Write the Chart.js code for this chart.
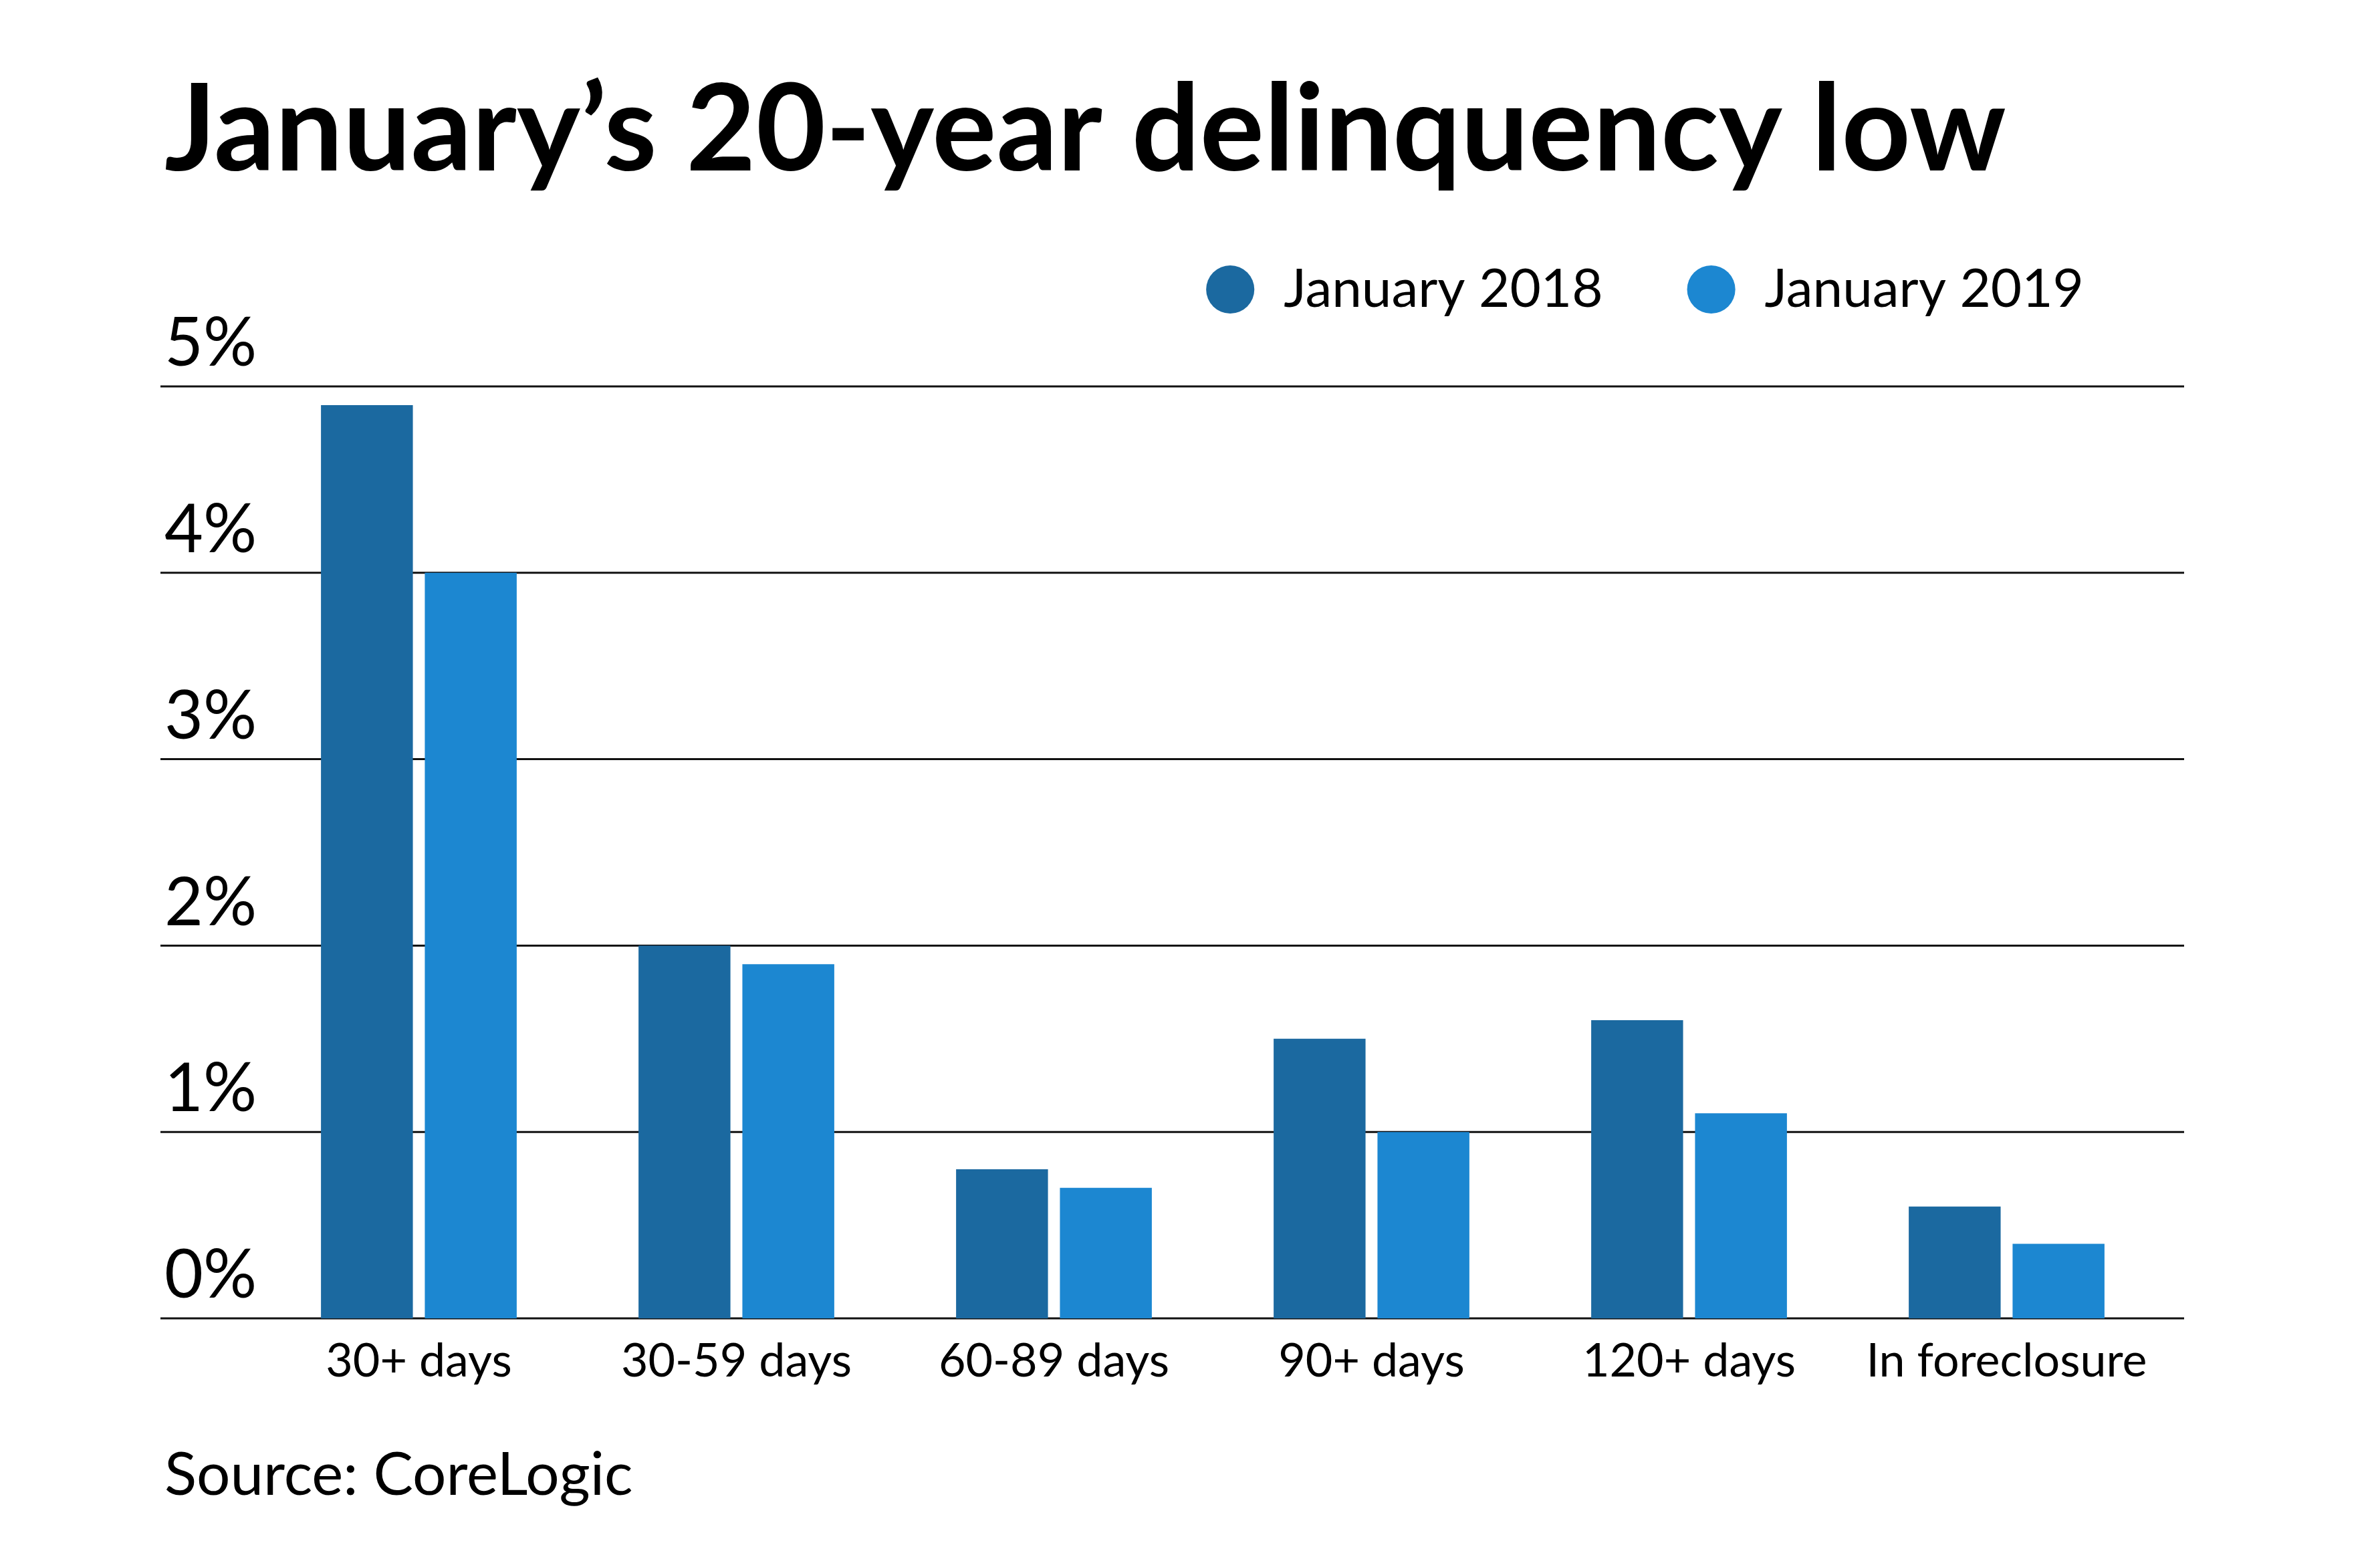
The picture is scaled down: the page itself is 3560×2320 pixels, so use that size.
<!DOCTYPE html>
<html>
<head>
<meta charset="utf-8">
<title>January's 20-year delinquency low</title>
<script src="https://cdn.jsdelivr.net/npm/chart.js@4"></script>
<style>
  html, body { margin: 0; padding: 0; background: #fff; }
  #wrap { width: 3560px; height: 2320px; position: relative; }
</style>
</head>
<body>
<div id="wrap"><canvas id="delinq"></canvas></div>
<script>
const categories = ['30+ days', '30-59 days', '60-89 days', '90+ days', '120+ days', 'In foreclosure'];
const seriesNames = ['January 2018', 'January 2019'];
const jan2018 = [4.9, 2.0, 0.8, 1.5, 1.6, 0.6];
const jan2019 = [4.0, 1.9, 0.7, 1.0, 1.1, 0.4];
const yMax = 5;
const yStep = 1;

const darkBlue = '#1b69a0';
const lightBlue = '#1c87d1';

// horizontal rules run a bit past the plot on both sides, behind the bars
const fullGrid = {
  id: 'fullGrid',
  beforeDatasetsDraw(chart) {
    const {ctx, chartArea, scales: {y}} = chart;
    ctx.save();
    ctx.strokeStyle = '#111';
    ctx.lineWidth = 3;
    y.ticks.forEach(t => {
      const py = y.getPixelForValue(t.value);
      ctx.beginPath();
      ctx.moveTo(y.left - 6, py);
      ctx.lineTo(chartArea.right + 28, py);
      ctx.stroke();
    });
    ctx.restore();
  }
};

const ctx = document.getElementById('delinq');

const chart = new Chart(ctx, {
  type: 'bar',
  data: {
    labels: categories,
    datasets: [{
      label: seriesNames[0],
      data: jan2018,
      backgroundColor: darkBlue,
      borderWidth: 0
    }, {
      label: seriesNames[1],
      data: jan2019,
      backgroundColor: lightBlue,
      borderWidth: 0
    }]
  },
  options: {
    responsive: true,
    maintainAspectRatio: false,
    devicePixelRatio: 1,
    animation: false,
    categoryPercentage: 0.654,
    barPercentage: 0.885,
    layout: {
      padding: {top: 111, left: 246, right: 321, bottom: 68}
    },
    plugins: {
      tooltip: {enabled: false},
      title: {
        display: true,
        text: 'January\u2019s 20-year delinquency low',
        align: 'start',
        color: '#000',
        font: {family: 'Lato', size: 180, weight: '700', lineHeight: 0.95},
        padding: {top: 0, bottom: -11}
      },
      subtitle: {
        display: true,
        position: 'bottom',
        text: 'Source: CoreLogic',
        align: 'start',
        color: '#000',
        font: {family: 'Lato', size: 89, weight: '400', lineHeight: 1},
        padding: 0
      },
      legend: {
        position: 'top',
        align: 'end',
        labels: {
          usePointStyle: true,
          pointStyle: 'circle',
          boxWidth: 80,
          boxHeight: 51,
          padding: 122,
          color: '#000',
          font: {family: 'Lato', size: 80, weight: '400'}
        }
      }
    },
    scales: {
      x: {
        grid: {display: false, drawTicks: false},
        border: {display: false},
        ticks: {
          color: '#000',
          font: {family: 'Lato', size: 70, weight: '400'},
          padding: 22,
          maxRotation: 0,
          autoSkip: false
        },
        afterFit(scale) { scale.height = 191; }
      },
      gap: {
        type: 'category',
        position: 'top',
        grid: {display: false, drawTicks: false},
        border: {display: false},
        ticks: {display: false},
        afterFit(scale) { scale.height = 95; }
      },
      y: {
        min: 0,
        max: yMax,
        grid: {display: false, drawTicks: false},
        border: {display: false},
        ticks: {
          stepSize: yStep,
          color: '#000',
          font: {family: 'Lato', size: 100, weight: '400'},
          crossAlign: 'far',
          labelOffset: -63,
          padding: 0,
          callback: v => v + '%'
        },
        afterFit(scale) { scale.width = 143; }
      }
    }
  },
  plugins: [fullGrid]
});
</script>
</body>
</html>
